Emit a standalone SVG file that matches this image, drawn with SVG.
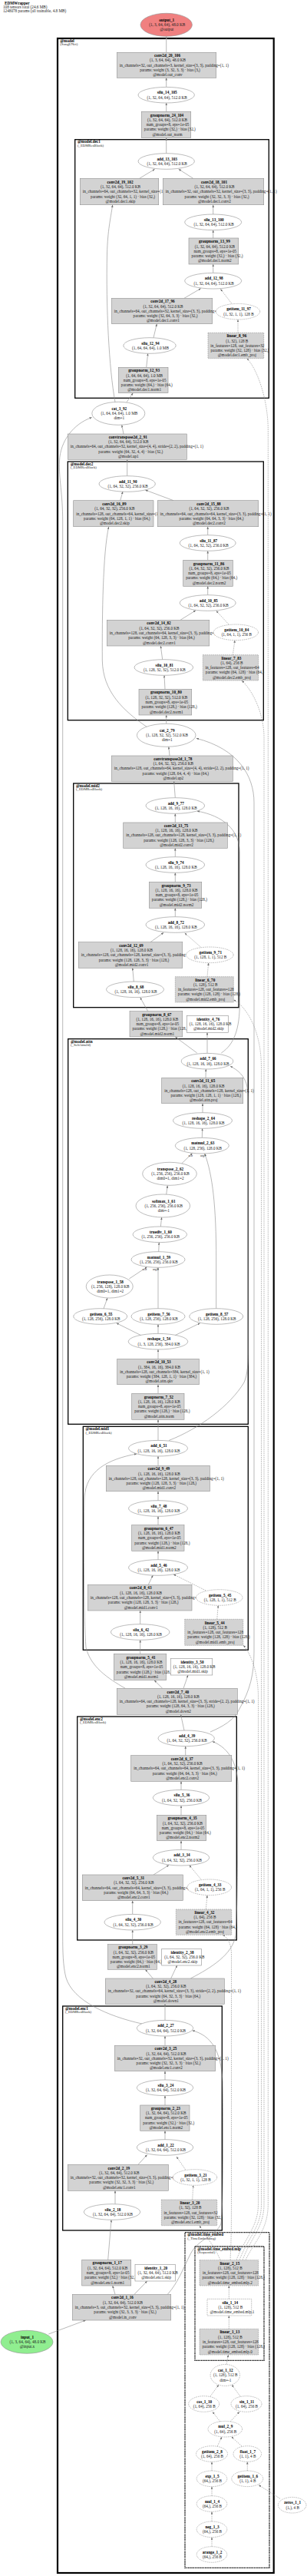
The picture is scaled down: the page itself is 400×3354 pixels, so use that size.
<svg xmlns="http://www.w3.org/2000/svg" width="400" height="3354" viewBox="0 0 400 3354">
<style>
text{font-family:"Liberation Serif","Times New Roman",serif;font-size:5.2px;fill:#222;text-anchor:middle}
.b{font-weight:bold;fill:#000}
.s{text-anchor:start}
.h{text-anchor:start}
.r{fill:#d3d3d3;stroke:#8f8f8f;stroke-width:0.6}
.w{fill:#fff;stroke:#8f8f8f;stroke-width:0.6}
.dh{stroke-dasharray:1.6,1}
.cl{fill:none;stroke:#000;stroke-width:1.3}
.cm{fill:none;stroke:#000;stroke-width:2.2}
.cd{stroke-dasharray:1.4,0.8}
.lb{text-anchor:start;font-weight:bold;fill:#000}
.ls{text-anchor:start;font-size:4.7px}
.e{fill:none;stroke:#8a8a8a;stroke-width:0.6;marker-end:url(#ah)}
.ed{stroke-dasharray:1.6,1.1}
.el{font-size:4px}
</style>
<defs>
<marker id="ah" viewBox="0 0 10 8" refX="10" refY="4" markerWidth="3.2" markerHeight="2.6" markerUnits="userSpaceOnUse" orient="auto"><path d="M0,0 L10,4 L0,8 z" fill="#6f6f6f"/></marker>
</defs>
<rect width="400" height="3354" fill="#fff"/>
<g id="header">
<text class="h b" x="6" y="5.8">EDMWrapper</text>
<text class="h" x="4" y="10.8">108 tensors total (24.6 MB)</text>
<text class="h" x="4" y="15.5">1248078 params (all trainable, 4.8 MB)</text>
</g>
<g id="clusters">
<rect class="cm" x="75" y="50" width="281.7" height="3300"/>
<text class="lb" x="78.3" y="54.8">@model</text><text class="ls" x="78.3" y="59.3">(SongUNet)</text>
<rect class="cl" x="97.7" y="181.7" width="252.6" height="336.6"/>
<text class="lb" x="101" y="186.2">@model.dec1</text><text class="ls" x="101" y="190.8">(_EDMResBlock)</text>
<rect class="cl" x="88.3" y="601" width="255" height="336.7"/>
<text class="lb" x="91.7" y="605.5">@model.dec2</text><text class="ls" x="91.7" y="610">(_EDMResBlock)</text>
<rect class="cl" x="95.7" y="1020" width="215.3" height="291.7"/>
<text class="lb" x="99" y="1024.7">@model.mid2</text><text class="ls" x="99" y="1029.3">(_EDMResBlock)</text>
<rect class="cl" x="88.7" y="1352.7" width="234.6" height="501.6"/>
<text class="lb" x="92" y="1357.5">@model.attn</text><text class="ls" x="92" y="1362">(_SelfAttn2d)</text>
<rect class="cl" x="108.3" y="1857.3" width="215" height="291"/>
<text class="lb" x="111.5" y="1862">@model.mid1</text><text class="ls" x="111.5" y="1866.5">(_EDMResBlock)</text>
<rect class="cl" x="100.7" y="2235" width="207.6" height="291"/>
<text class="lb" x="104" y="2239.7">@model.enc2</text><text class="ls" x="104" y="2244.2">(_EDMResBlock)</text>
<rect class="cl" x="81.7" y="2612" width="207.6" height="292"/>
<text class="lb" x="85" y="2616.8">@model.enc1</text><text class="ls" x="85" y="2621.3">(_EDMResBlock)</text>
<rect class="cl cd" x="241" y="2906.7" width="110" height="436.6"/>
<text class="lb" x="244.3" y="2911.3">@model.time_embed</text><text class="ls" x="244.3" y="2915.8">(_TimeEmbedding)</text>
<rect class="cl cd" x="254" y="2925" width="90" height="148.3"/>
<text class="lb" x="257.3" y="2929.7">@model.time_embed.mlp</text><text class="ls" x="257.3" y="2934.2">(Sequential)</text>
</g>
<g id="edges">
<path class="e" d="M216.7,68.3 L216.7,47.6"/>
<path class="e" d="M216.7,113.4 L216.7,101.3"/>
<path class="e" d="M216.7,145.3 L216.7,134"/>
<path class="e" d="M216.7,199.7 L216.7,179.3"/>
<path class="e" d="M181.7,232.3 L201.7,220.2"/>
<path class="e" d="M251.7,232.3 L232.7,220.2"/>
<path class="e" d="M277.7,279 L277.7,266.7"/>
<path class="e" d="M277.7,310 L277.7,299.6"/>
<path class="e" d="M277.7,355.4 L277.7,344"/>
<path class="e" d="M240,388.3 L261.7,375.6"/>
<path class="e" d="M200,439.7 L204.3,421.7"/>
<path class="e" d="M190.7,478.3 L192.7,460.3"/>
<path class="e" d="M165,523.6 L173.3,511.7"/>
<path class="e" d="M150,523.5 C142,480 138,400 139.5,330 C140.3,300 144,285 146.7,266.7"/>
<path class="e" d="M161,565 L158.7,553.3"/>
<path class="e" d="M185,2635 C140,2625 95,2605 86,2575 C82,2560 81.7,2540 81.7,2520 L81.7,680 C81.7,640 76.5,625 77.5,600 C78.5,575 95,552 119.7,543.5"/>
<path class="e" d="M165.7,619.7 L165.7,598.3"/>
<path class="e" d="M156.7,651.7 L160,640"/>
<path class="e" d="M226,651.7 L189.3,638"/>
<path class="e" d="M270.7,696.7 L270.7,685.7"/>
<path class="e" d="M270.7,729.3 L270.7,717.3"/>
<path class="e" d="M270.7,774.7 L270.7,763.3"/>
<path class="e" d="M235,807.3 L255,794.8"/>
<path class="e" d="M211.7,858.7 L209.3,841"/>
<path class="e" d="M215,897.3 L214,879.3"/>
<path class="e" d="M216.7,942.3 L216.7,931"/>
<path class="e" d="M191.7,946.7 C160,925 134,900 133.3,860 C133,800 134,720 141.7,685.7"/>
<path class="e" d="M221,984 L219.8,972.3"/>
<path class="e" d="M274,2255 C290,2248 305,2240 312,2225 C326,2200 331,2180 331,2150 L331,1045 C331,1010 310,975 255.7,961.3"/>
<path class="e" d="M228.3,1038.7 L226.7,1017.3"/>
<path class="e" d="M228.3,1071 L228.3,1059.3"/>
<path class="e" d="M288.3,1371 C305,1360 312.3,1340 312.3,1306 L312.3,1110 C312.3,1080 290,1062 256.7,1056"/>
<path class="e" d="M228.3,1115.7 L228.3,1104.3"/>
<path class="e" d="M228.3,1148.3 L228.3,1136.3"/>
<path class="e" d="M228.3,1193.7 L228.3,1182.3"/>
<path class="e" d="M196,1226.7 L213.3,1214.3"/>
<path class="e" d="M174.3,1278 L172.7,1260.3"/>
<path class="e" d="M192.7,1316.7 L182.7,1298.8"/>
<path class="e" d="M256.7,1371 L228.3,1350"/>
<path class="e" d="M270,1371.4 L270,1344.3"/>
<path class="e" d="M268,1403.3 L268.3,1392"/>
<path class="e" d="M220,1875.5 C260,1860 300,1830 318,1800 C322.5,1790 323.3,1775 323.3,1760 L323.3,1430 C323.3,1410 318,1397 300,1388.3"/>
<path class="e" d="M264,1448.7 L264,1436.7"/>
<path class="e" d="M263.3,1481.4 L263.6,1469.3"/>
<path class="e" d="M236.7,1515 L250.7,1501.3"/>
<path class="e" d="M281.7,1703.7 L281.7,1640 C281.7,1570 277,1530 266.7,1502"/>
<path class="e" d="M216.7,1555 L218.3,1543.6"/>
<path class="e" d="M209.3,1597 L210.7,1585"/>
<path class="e" d="M206.7,1629.7 L207.3,1617.6"/>
<path class="e" d="M168.3,1665 L191.7,1649.5"/>
<path class="e" d="M206,1703.7 L206,1650.3"/>
<path class="e" d="M135,1703.8 L140,1690"/>
<path class="e" d="M185,1739.3 L151.7,1722.7"/>
<path class="e" d="M206,1736.4 L206,1724.3"/>
<path class="e" d="M226.7,1739.3 L260.7,1722.7"/>
<path class="e" d="M206,1769.3 L206,1757"/>
<path class="e" d="M206,1814.3 L206,1802.7"/>
<path class="e" d="M206,1875.4 L206,1848.3"/>
<path class="e" d="M206,1908.3 L206,1896"/>
<path class="e" d="M163.3,2198.3 C140,2185 118,2170 112,2145 C109,2110 109,1990 110,1950 C112,1915 140,1900 178.3,1892.9"/>
<path class="e" d="M206,1953.7 L206,1941.7"/>
<path class="e" d="M206,1985.7 L206,1974.3"/>
<path class="e" d="M206,2030.7 L206,2019.3"/>
<path class="e" d="M193.3,2063.3 L199.3,2051"/>
<path class="e" d="M182.7,2114.7 L182.7,2097"/>
<path class="e" d="M182.7,2153.3 L182.7,2135.3"/>
<path class="e" d="M211.7,2198.3 L201,2187.7"/>
<path class="e" d="M239,2198.3 L245,2181"/>
<path class="e" d="M240,2253.1 L235.5,2232.3"/>
<path class="e" d="M241.7,2285.7 L241.7,2273.6"/>
<path class="e" d="M248.3,2576 C275,2562 303,2545 307,2520 C310,2470 309.5,2400 310,2330 C311,2300 300,2276 276.7,2267.5"/>
<path class="e" d="M236,2330.4 L236,2319.3"/>
<path class="e" d="M236,2363.3 L236,2351"/>
<path class="e" d="M236,2408.4 L236,2396.7"/>
<path class="e" d="M200,2441 L220,2428.4"/>
<path class="e" d="M172.7,2492.4 L172.7,2474.7"/>
<path class="e" d="M172.7,2531.7 L172.7,2513"/>
<path class="e" d="M199.3,2576 L189.3,2564.3"/>
<path class="e" d="M222.7,2576 L230.7,2559"/>
<path class="e" d="M215,2630.4 L215,2609.3"/>
<path class="e" d="M215,2663.3 L215,2651"/>
<path class="e" d="M218.3,2987.3 C232,2972 238,2955 248,2935 C258,2915 283,2910 288,2895 C291,2870 291,2760 290,2710 C288,2670 275,2650 250.5,2643.8"/>
<path class="e" d="M215,2708 L215,2696.7"/>
<path class="e" d="M215,2741 L215,2728.6"/>
<path class="e" d="M215,2785.7 L215,2774.3"/>
<path class="e" d="M180,2818.3 L191.7,2805.5"/>
<path class="e" d="M150,2869.7 L150,2852.3"/>
<path class="e" d="M140.7,2942.3 L145,2890.3"/>
<path class="e" d="M150,2987.3 L146.7,2976"/>
<path class="e" d="M175,2987.3 L191.7,2970"/>
<path class="e" d="M63.3,3039 L111.7,3021"/>
<path class="e ed" d="M301.7,395 L287.3,376.3"/>
<path class="e ed" d="M310,433.3 L310,416"/>
<path class="e ed" d="M320,2942.7 C330,2920 349.3,2905 349.3,2870 L349.3,560 C349.3,520 335,480 321.7,466.7"/>
<path class="e ed" d="M316,2942.7 C326,2915 344,2900 344,2870 L344,960 C344,930 330,900 315,886"/>
<path class="e ed" d="M298.3,813.3 L281.7,795.2"/>
<path class="e ed" d="M303.3,852.7 L306,833.6"/>
<path class="e ed" d="M312,2942.7 C322,2915 340.5,2900 340.5,2870 L340.5,1390 C340.5,1340 320,1310 304.3,1301.7"/>
<path class="e ed" d="M261.7,1233.3 L240.7,1214.8"/>
<path class="e ed" d="M270,1271.7 L271.7,1253.6"/>
<path class="e ed" d="M268.3,2071 L226,2049.8"/>
<path class="e ed" d="M282.7,2108.3 L284.3,2090.3"/>
<path class="e ed" d="M308,2942.7 C318,2915 336.5,2900 336.5,2870 L336.5,2210 C336.5,2175 325,2150 317,2142.3"/>
<path class="e ed" d="M261.7,2446.7 L246.7,2428.6"/>
<path class="e ed" d="M268.3,2486 L270,2467.6"/>
<path class="e ed" d="M300,2942.7 C301.5,2915 301.5,2890 301.5,2860 L301.5,2545 C301.5,2530 296,2522 290,2519.3"/>
<path class="e ed" d="M241.7,2825 L230,2808"/>
<path class="e ed" d="M250.7,2864 L251.7,2845.3"/>
<path class="e ed" d="M287,2942.7 C280,2925 268,2912 260,2897.7"/>
<path class="e ed" d="M298.3,2993.3 L298.3,2976"/>
<path class="e ed" d="M298.3,3032.3 L298.3,3015"/>
<path class="e ed" d="M295,3078.5 L297.5,3066"/>
<path class="e ed" d="M274,3120 L285,3105"/>
<path class="e ed" d="M313,3120 L302,3105"/>
<path class="e ed" d="M287,3153.3 L277,3140.2"/>
<path class="e ed" d="M300,3153 L312,3140.2"/>
<path class="e ed" d="M283.3,3185 L289,3172.8"/>
<path class="e ed" d="M315,3185 L301.5,3172.6"/>
<path class="e ed" d="M276,3217 L276,3205.3"/>
<path class="e ed" d="M322.3,3217 L322.3,3205.3"/>
<path class="e ed" d="M276,3249.7 L276,3237.6"/>
<path class="e ed" d="M276,3283 L276,3270.3"/>
<path class="e ed" d="M276,3315.7 L276,3303.6"/>
<path class="e ed" d="M365,3253.3 L337,3235.5"/>
<text class="el" x="248.3" y="1505.5">self</text><text class="el" x="264.5" y="1505.5">arg1</text>
<text class="el" x="188.5" y="1653.5">self</text><text class="el" x="202.5" y="1653.5">arg1</text>
</g>
<g id="output_1"><ellipse cx="216.7" cy="32.3" rx="33.7" ry="15" fill="#f08080" stroke="#8f8f8f" stroke-width="0.6"/><text class="b" x="217.2" y="27.8">output_1</text><text x="217.7" y="34.1">(1, 3, 64, 64), 48.0 KB</text><text x="217.2" y="40.4">@output</text></g>
<g id="conv2d_20_106"><rect class="r" x="152.3" y="68.3" width="129.4" height="33"/><text class="b" x="218" y="74">conv2d_20_106</text><text x="218.5" y="80.3">(1, 3, 64, 64), 48.0 KB</text><text class="s" x="155.8" y="86.6">in_channels=32, out_channels=3, kernel_size=(3, 3), padding=(1, 1)</text><text x="221.5" y="92.9">params: weight (3, 32, 3, 3) · bias (3,)</text><text x="218.5" y="99.2">@model.out_conv</text></g>
<g id="silu_14_105"><ellipse class="w" cx="216.7" cy="123.7" rx="36.7" ry="10.3"/><text class="b" x="217.7" y="122.35">silu_14_105</text><text x="217.7" y="128.65">(1, 32, 64, 64), 512.0 KB</text></g>
<g id="groupnorm_24_104"><rect class="r" x="184.3" y="145.3" width="64.4" height="34"/><text class="b" x="217.5" y="151.5">groupnorm_24_104</text><text x="218" y="157.8">(1, 32, 64, 64), 512.0 KB</text><text x="218.5" y="164.1">num_groups=8, eps=1e-05</text><text class="s" x="187.8" y="170.4">params: weight (32,) · bias (32,)</text><text x="218" y="176.7">@model.out_norm</text></g>
<g id="add_13_103"><ellipse class="w" cx="216.7" cy="210" rx="36.7" ry="10.3"/><text class="b" x="217.7" y="208.65">add_13_103</text><text x="217.7" y="214.95">(1, 32, 64, 64), 512.0 KB</text></g>
<g id="conv2d_19_102"><rect class="r" x="104.3" y="232.3" width="102.4" height="34.4"/><text class="b" x="156.5" y="238.7">conv2d_19_102</text><text x="157" y="245">(1, 32, 64, 64), 512.0 KB</text><text class="s" x="107.8" y="251.3">in_channels=64, out_channels=32, kernel_size=(1, 1)</text><text x="160" y="257.6">params: weight (32, 64, 1, 1) · bias (32,)</text><text x="157" y="263.9">@model.dec1.skip</text></g>
<g id="conv2d_18_101"><rect class="r" x="212.3" y="232.3" width="131.4" height="34.4"/><text class="b" x="279" y="238.7">conv2d_18_101</text><text x="279.5" y="245">(1, 32, 64, 64), 512.0 KB</text><text class="s" x="215.8" y="251.3">in_channels=32, out_channels=32, kernel_size=(3, 3), padding=(1, 1)</text><text x="282.5" y="257.6">params: weight (32, 32, 3, 3) · bias (32,)</text><text x="279.5" y="263.9">@model.dec1.conv2</text></g>
<g id="silu_13_100"><ellipse class="w" cx="277.7" cy="289.3" rx="37" ry="10.3"/><text class="b" x="278.7" y="287.95">silu_13_100</text><text x="278.7" y="294.25">(1, 32, 64, 64), 512.0 KB</text></g>
<g id="groupnorm_13_99"><rect class="r" x="246" y="310" width="64.7" height="34"/><text class="b" x="279.35" y="316.2">groupnorm_13_99</text><text x="279.85" y="322.5">(1, 32, 64, 64), 512.0 KB</text><text x="280.35" y="328.8">num_groups=8, eps=1e-05</text><text class="s" x="249.5" y="335.1">params: weight (32,) · bias (32,)</text><text x="279.85" y="341.4">@model.dec1.norm2</text></g>
<g id="add_12_98"><ellipse class="w" cx="277.7" cy="365.7" rx="37" ry="10.3"/><text class="b" x="278.7" y="364.35">add_12_98</text><text x="278.7" y="370.65">(1, 32, 64, 64), 512.0 KB</text></g>
<g id="conv2d_17_96"><rect class="r" x="145.3" y="388.3" width="131.4" height="33.4"/><text class="b" x="212" y="394.2">conv2d_17_96</text><text x="212.5" y="400.5">(1, 32, 64, 64), 512.0 KB</text><text class="s" x="148.8" y="406.8">in_channels=64, out_channels=32, kernel_size=(3, 3), padding=(1, 1)</text><text x="215.5" y="413.1">params: weight (32, 64, 3, 3) · bias (32,)</text><text x="212.5" y="419.4">@model.dec1.conv1</text></g>
<g id="getitem_11_97"><ellipse class="w dh" cx="310" cy="405.7" rx="28.7" ry="10.3"/><text class="b" x="311" y="404.35">getitem_11_97</text><text x="311" y="410.65">(1, 32, 1, 1), 128 B</text></g>
<g id="linear_8_96"><rect class="r dh" x="271" y="433.3" width="72.7" height="33.4"/><text class="b" x="308.35" y="439.2">linear_8_96</text><text x="308.85" y="445.5">(1, 32), 128 B</text><text x="309.35" y="451.8">in_features=128, out_features=32</text><text class="s" x="274.5" y="458.1">params: weight (32, 128) · bias (32,)</text><text x="308.85" y="464.4">@model.dec1.emb_proj</text></g>
<g id="silu_12_94"><ellipse class="w" cx="195" cy="450" rx="34.2" ry="10.3"/><text class="b" x="196" y="448.65">silu_12_94</text><text x="196" y="454.95">(1, 64, 64, 64), 1.0 MB</text></g>
<g id="groupnorm_12_93"><rect class="r" x="154.3" y="478.3" width="64.7" height="33.4"/><text class="b" x="187.65" y="484.2">groupnorm_12_93</text><text x="188.15" y="490.5">(1, 64, 64, 64), 1.0 MB</text><text x="188.65" y="496.8">num_groups=8, eps=1e-05</text><text class="s" x="157.8" y="503.1">params: weight (64,) · bias (64,)</text><text x="188.15" y="509.4">@model.dec1.norm1</text></g>
<g id="cat_3_92"><ellipse class="w" cx="154.3" cy="538.3" rx="34.5" ry="15"/><text class="b" x="155.3" y="533.8">cat_3_92</text><text x="155.3" y="540.1">(1, 64, 64, 64), 1.0 MB</text><text x="155.3" y="546.4">dim=1</text></g>
<g id="convtranspose2d_2_91"><rect class="r" x="88.3" y="565" width="155" height="33.3"/><text class="b" x="166.8" y="570.85">convtranspose2d_2_91</text><text x="167.3" y="577.15">(1, 32, 64, 64), 512.0 KB</text><text class="s" x="91.8" y="583.45">in_channels=64, out_channels=32, kernel_size=(4, 4), stride=(2, 2), padding=(1, 1)</text><text x="170.3" y="589.75">params: weight (64, 32, 4, 4) · bias (32,)</text><text x="167.3" y="596.05">@model.up1</text></g>
<g id="add_11_90"><ellipse class="w" cx="165.7" cy="630" rx="36.7" ry="10.3"/><text class="b" x="166.7" y="628.65">add_11_90</text><text x="166.7" y="634.95">(1, 64, 32, 32), 256.0 KB</text></g>
<g id="conv2d_16_89"><rect class="r" x="95.7" y="651.7" width="104.3" height="34"/><text class="b" x="148.85" y="657.9">conv2d_16_89</text><text x="149.35" y="664.2">(1, 64, 32, 32), 256.0 KB</text><text class="s" x="99.2" y="670.5">in_channels=128, out_channels=64, kernel_size=(1, 1)</text><text x="152.35" y="676.8">params: weight (64, 128, 1, 1) · bias (64,)</text><text x="149.35" y="683.1">@model.dec2.skip</text></g>
<g id="conv2d_15_88"><rect class="r" x="205.3" y="651.7" width="131.4" height="34"/><text class="b" x="272" y="657.9">conv2d_15_88</text><text x="272.5" y="664.2">(1, 64, 32, 32), 256.0 KB</text><text class="s" x="208.8" y="670.5">in_channels=64, out_channels=64, kernel_size=(3, 3), padding=(1, 1)</text><text x="275.5" y="676.8">params: weight (64, 64, 3, 3) · bias (64,)</text><text x="272.5" y="683.1">@model.dec2.conv2</text></g>
<g id="silu_11_87"><ellipse class="w" cx="270.7" cy="707" rx="36.5" ry="10.3"/><text class="b" x="271.7" y="705.65">silu_11_87</text><text x="271.7" y="711.95">(1, 64, 32, 32), 256.0 KB</text></g>
<g id="groupnorm_11_86"><rect class="r" x="238.7" y="729.3" width="64.6" height="34"/><text class="b" x="272" y="735.5">groupnorm_11_86</text><text x="272.5" y="741.8">(1, 64, 32, 32), 256.0 KB</text><text x="273" y="748.1">num_groups=8, eps=1e-05</text><text class="s" x="242.2" y="754.4">params: weight (64,) · bias (64,)</text><text x="272.5" y="760.7">@model.dec2.norm2</text></g>
<g id="add_10_85"><ellipse class="w" cx="270.7" cy="785" rx="36.5" ry="10.3"/><text class="b" x="271.7" y="783.65">add_10_85</text><text x="271.7" y="789.95">(1, 64, 32, 32), 256.0 KB</text></g>
<g id="conv2d_14_82"><rect class="r" x="139.3" y="807.3" width="133.4" height="33.7"/><text class="b" x="207" y="813.35">conv2d_14_82</text><text x="207.5" y="819.65">(1, 64, 32, 32), 256.0 KB</text><text class="s" x="142.8" y="825.95">in_channels=128, out_channels=64, kernel_size=(3, 3), padding=(1, 1)</text><text x="210.5" y="832.25">params: weight (64, 128, 3, 3) · bias (64,)</text><text x="207.5" y="838.55">@model.dec2.conv1</text></g>
<g id="getitem_10_84"><ellipse class="w dh" cx="307.3" cy="823.3" rx="29.2" ry="10.3"/><text class="b" x="308.3" y="821.95">getitem_10_84</text><text x="308.3" y="828.25">(1, 64, 1, 1), 256 B</text></g>
<g id="linear_7_83"><rect class="r dh" x="264.3" y="852.7" width="72.4" height="33.3"/><text class="b" x="301.5" y="858.55">linear_7_83</text><text x="302" y="864.85">(1, 64), 256 B</text><text x="302.5" y="871.15">in_features=128, out_features=64</text><text class="s" x="267.8" y="877.45">params: weight (64, 128) · bias (64,)</text><text x="302" y="883.75">@model.dec2.emb_proj</text></g>
<g id="silu_10_81"><ellipse class="w" cx="213.3" cy="869" rx="38.3" ry="10.3"/><text class="b" x="214.3" y="867.65">silu_10_81</text><text x="214.3" y="873.95">(1, 128, 32, 32), 512.0 KB</text></g>
<g id="groupnorm_10_80"><rect class="r" x="181" y="897.3" width="68.7" height="33.7"/><text class="b" x="216.35" y="903.35">groupnorm_10_80</text><text x="216.85" y="909.65">(1, 128, 32, 32), 512.0 KB</text><text x="217.35" y="915.95">num_groups=8, eps=1e-05</text><text class="s" x="184.5" y="922.25">params: weight (128,) · bias (128,)</text><text x="216.85" y="928.55">@model.dec2.norm1</text></g>
<g id="cat_2_79"><ellipse class="w" cx="216.7" cy="957.3" rx="38.3" ry="15"/><text class="b" x="217.7" y="952.8">cat_2_79</text><text x="217.7" y="959.1">(1, 128, 32, 32), 512.0 KB</text><text x="217.7" y="965.4">dim=1</text></g>
<g id="convtranspose2d_1_78"><rect class="r" x="145.3" y="984" width="158" height="33.3"/><text class="b" x="225.3" y="989.85">convtranspose2d_1_78</text><text x="225.8" y="996.15">(1, 64, 32, 32), 256.0 KB</text><text class="s" x="148.8" y="1002.45">in_channels=128, out_channels=64, kernel_size=(4, 4), stride=(2, 2), padding=(1, 1)</text><text x="228.8" y="1008.75">params: weight (128, 64, 4, 4) · bias (64,)</text><text x="225.8" y="1015.05">@model.up2</text></g>
<g id="add_9_77"><ellipse class="w" cx="228.3" cy="1049" rx="38.3" ry="10.3"/><text class="b" x="229.3" y="1047.65">add_9_77</text><text x="229.3" y="1053.95">(1, 128, 16, 16), 128.0 KB</text></g>
<g id="conv2d_13_75"><rect class="r" x="160.7" y="1071" width="135.6" height="33.3"/><text class="b" x="229.5" y="1076.85">conv2d_13_75</text><text x="230" y="1083.15">(1, 128, 16, 16), 128.0 KB</text><text class="s" x="164.2" y="1089.45">in_channels=128, out_channels=128, kernel_size=(3, 3), padding=(1, 1)</text><text x="233" y="1095.75">params: weight (128, 128, 3, 3) · bias (128,)</text><text x="230" y="1102.05">@model.mid2.conv2</text></g>
<g id="silu_9_74"><ellipse class="w" cx="228.3" cy="1126" rx="38.3" ry="10.3"/><text class="b" x="229.3" y="1124.65">silu_9_74</text><text x="229.3" y="1130.95">(1, 128, 16, 16), 128.0 KB</text></g>
<g id="groupnorm_9_73"><rect class="r" x="194.3" y="1148.3" width="68.4" height="34"/><text class="b" x="229.5" y="1154.5">groupnorm_9_73</text><text x="230" y="1160.8">(1, 128, 16, 16), 128.0 KB</text><text x="230.5" y="1167.1">num_groups=8, eps=1e-05</text><text class="s" x="197.8" y="1173.4">params: weight (128,) · bias (128,)</text><text x="230" y="1179.7">@model.mid2.norm2</text></g>
<g id="add_8_72"><ellipse class="w" cx="228.3" cy="1204" rx="38.3" ry="10.3"/><text class="b" x="229.3" y="1202.65">add_8_72</text><text x="229.3" y="1208.95">(1, 128, 16, 16), 128.0 KB</text></g>
<g id="conv2d_12_69"><rect class="r" x="102.3" y="1226.7" width="135.4" height="33.6"/><text class="b" x="171" y="1232.7">conv2d_12_69</text><text x="171.5" y="1239">(1, 128, 16, 16), 128.0 KB</text><text class="s" x="105.8" y="1245.3">in_channels=128, out_channels=128, kernel_size=(3, 3), padding=(1, 1)</text><text x="174.5" y="1251.6">params: weight (128, 128, 3, 3) · bias (128,)</text><text x="171.5" y="1257.9">@model.mid2.conv1</text></g>
<g id="getitem_9_71"><ellipse class="w dh" cx="273.3" cy="1243.3" rx="30.8" ry="10.3"/><text class="b" x="274.3" y="1241.95">getitem_9_71</text><text x="274.3" y="1248.25">(1, 128, 1, 1), 512 B</text></g>
<g id="silu_8_68"><ellipse class="w" cx="176" cy="1288.3" rx="37.5" ry="10.3"/><text class="b" x="177" y="1286.95">silu_8_68</text><text x="177" y="1293.25">(1, 128, 16, 16), 128.0 KB</text></g>
<g id="linear_6_70"><rect class="r dh" x="228.3" y="1271.7" width="76" height="33.3"/><text class="b" x="267.3" y="1277.55">linear_6_70</text><text x="267.8" y="1283.85">(1, 128), 512 B</text><text x="268.3" y="1290.15">in_features=128, out_features=128</text><text class="s" x="231.8" y="1296.45">params: weight (128, 128) · bias (128,)</text><text x="267.8" y="1302.75">@model.mid2.emb_proj</text></g>
<g id="groupnorm_8_67"><rect class="r" x="169" y="1316.7" width="68.7" height="33.3"/><text class="b" x="204.35" y="1322.55">groupnorm_8_67</text><text x="204.85" y="1328.85">(1, 128, 16, 16), 128.0 KB</text><text x="205.35" y="1335.15">num_groups=8, eps=1e-05</text><text class="s" x="172.5" y="1341.45">params: weight (128,) · bias (128,)</text><text x="204.85" y="1347.75">@model.mid2.norm1</text></g>
<g id="identity_4_76"><rect class="w" x="243.3" y="1322.3" width="54" height="22"/><text class="b" x="271.3" y="1328.8">identity_4_76</text><text class="s" x="246.8" y="1335.1">(1, 128, 16, 16), 128.0 KB</text><text x="271.8" y="1341.4">@model.mid2.skip</text></g>
<g id="add_7_66"><ellipse class="w" cx="270" cy="1381.7" rx="33.8" ry="10.3"/><text class="b" x="271" y="1380.35">add_7_66</text><text x="271" y="1386.65">(1, 128, 16, 16), 128.0 KB</text></g>
<g id="conv2d_11_65"><rect class="r" x="210.7" y="1403.3" width="106" height="33.4"/><text class="b" x="264.7" y="1409.2">conv2d_11_65</text><text x="265.2" y="1415.5">(1, 128, 16, 16), 128.0 KB</text><text class="s" x="214.2" y="1421.8">in_channels=128, out_channels=128, kernel_size=(1, 1)</text><text x="268.2" y="1428.1">params: weight (128, 128, 1, 1) · bias (128,)</text><text x="265.2" y="1434.4">@model.attn.proj</text></g>
<g id="reshape_2_64"><ellipse class="w" cx="264" cy="1459" rx="38.5" ry="10.3"/><text class="b" x="265" y="1457.65">reshape_2_64</text><text x="265" y="1463.95">(1, 128, 16, 16), 128.0 KB</text></g>
<g id="matmul_2_63"><ellipse class="w" cx="263.3" cy="1491.7" rx="35" ry="10.3"/><text class="b" x="264.3" y="1490.35">matmul_2_63</text><text x="264.3" y="1496.65">(1, 128, 256), 128.0 KB</text></g>
<g id="transpose_2_62"><ellipse class="w" cx="221" cy="1528.3" rx="35.3" ry="15"/><text class="b" x="222" y="1523.8">transpose_2_62</text><text x="222" y="1530.1">(1, 256, 256), 256.0 KB</text><text x="222" y="1536.4">dim0=1, dim1=2</text></g>
<g id="softmax_1_61"><ellipse class="w" cx="212.3" cy="1570" rx="35.3" ry="15"/><text class="b" x="213.3" y="1565.5">softmax_1_61</text><text x="213.3" y="1571.8">(1, 256, 256), 256.0 KB</text><text x="213.3" y="1578.1">dim=-1</text></g>
<g id="truediv_1_60"><ellipse class="w" cx="208.3" cy="1607.3" rx="35.2" ry="10.3"/><text class="b" x="209.3" y="1605.95">truediv_1_60</text><text x="209.3" y="1612.25">(1, 256, 256), 256.0 KB</text></g>
<g id="matmul_1_59"><ellipse class="w" cx="206" cy="1640" rx="35" ry="10.3"/><text class="b" x="207" y="1638.65">matmul_1_59</text><text x="207" y="1644.95">(1, 256, 256), 256.0 KB</text></g>
<g id="transpose_1_58"><ellipse class="w" cx="142.7" cy="1675" rx="30.5" ry="15"/><text class="b" x="143.7" y="1670.5">transpose_1_58</text><text x="143.7" y="1676.8">(1, 256, 128), 128.0 KB</text><text x="143.7" y="1683.1">dim0=1, dim1=2</text></g>
<g id="getitem_6_55"><ellipse class="w" cx="130.7" cy="1714" rx="35" ry="10.3"/><text class="b" x="131.7" y="1712.65">getitem_6_55</text><text x="131.7" y="1718.95">(1, 128, 256), 128.0 KB</text></g>
<g id="getitem_7_56"><ellipse class="w" cx="206" cy="1714" rx="35" ry="10.3"/><text class="b" x="207" y="1712.65">getitem_7_56</text><text x="207" y="1718.95">(1, 128, 256), 128.0 KB</text></g>
<g id="getitem_8_57"><ellipse class="w" cx="281.7" cy="1714" rx="35" ry="10.3"/><text class="b" x="282.7" y="1712.65">getitem_8_57</text><text x="282.7" y="1718.95">(1, 128, 256), 128.0 KB</text></g>
<g id="reshape_1_54"><ellipse class="w" cx="206" cy="1746.7" rx="38.8" ry="10.3"/><text class="b" x="207" y="1745.35">reshape_1_54</text><text x="207" y="1751.65">(1, 3, 128, 256), 384.0 KB</text></g>
<g id="conv2d_10_53"><rect class="r" x="152.7" y="1769.3" width="106.6" height="33.4"/><text class="b" x="207" y="1775.2">conv2d_10_53</text><text x="207.5" y="1781.5">(1, 384, 16, 16), 384.0 KB</text><text class="s" x="156.2" y="1787.8">in_channels=128, out_channels=384, kernel_size=(1, 1)</text><text x="210.5" y="1794.1">params: weight (384, 128, 1, 1) · bias (384,)</text><text x="207.5" y="1800.4">@model.attn.qkv</text></g>
<g id="groupnorm_7_52"><rect class="r" x="171.7" y="1814.3" width="68.3" height="34"/><text class="b" x="206.85" y="1820.5">groupnorm_7_52</text><text x="207.35" y="1826.8">(1, 128, 16, 16), 128.0 KB</text><text x="207.85" y="1833.1">num_groups=8, eps=1e-05</text><text class="s" x="175.2" y="1839.4">params: weight (128,) · bias (128,)</text><text x="207.35" y="1845.7">@model.attn.norm</text></g>
<g id="add_6_51"><ellipse class="w" cx="206" cy="1885.7" rx="38.5" ry="10.3"/><text class="b" x="207" y="1884.35">add_6_51</text><text x="207" y="1890.65">(1, 128, 16, 16), 128.0 KB</text></g>
<g id="conv2d_9_49"><rect class="r" x="138.3" y="1908.3" width="135" height="33.4"/><text class="b" x="206.8" y="1914.2">conv2d_9_49</text><text x="207.3" y="1920.5">(1, 128, 16, 16), 128.0 KB</text><text class="s" x="141.8" y="1926.8">in_channels=128, out_channels=128, kernel_size=(3, 3), padding=(1, 1)</text><text x="210.3" y="1933.1">params: weight (128, 128, 3, 3) · bias (128,)</text><text x="207.3" y="1939.4">@model.mid1.conv2</text></g>
<g id="silu_7_48"><ellipse class="w" cx="206" cy="1964" rx="38.5" ry="10.3"/><text class="b" x="207" y="1962.65">silu_7_48</text><text x="207" y="1968.95">(1, 128, 16, 16), 128.0 KB</text></g>
<g id="groupnorm_6_47"><rect class="r" x="171.7" y="1985.7" width="68.3" height="33.6"/><text class="b" x="206.85" y="1991.7">groupnorm_6_47</text><text x="207.35" y="1998">(1, 128, 16, 16), 128.0 KB</text><text x="207.85" y="2004.3">num_groups=8, eps=1e-05</text><text class="s" x="175.2" y="2010.6">params: weight (128,) · bias (128,)</text><text x="207.35" y="2016.9">@model.mid1.norm2</text></g>
<g id="add_5_46"><ellipse class="w" cx="206" cy="2041" rx="38.5" ry="10.3"/><text class="b" x="207" y="2039.65">add_5_46</text><text x="207" y="2045.95">(1, 128, 16, 16), 128.0 KB</text></g>
<g id="conv2d_8_43"><rect class="r" x="114.3" y="2063.3" width="135.7" height="33.7"/><text class="b" x="183.15" y="2069.35">conv2d_8_43</text><text x="183.65" y="2075.65">(1, 128, 16, 16), 128.0 KB</text><text class="s" x="117.8" y="2081.95">in_channels=128, out_channels=128, kernel_size=(3, 3), padding=(1, 1)</text><text x="186.65" y="2088.25">params: weight (128, 128, 3, 3) · bias (128,)</text><text x="183.65" y="2094.55">@model.mid1.conv1</text></g>
<g id="getitem_5_45"><ellipse class="w dh" cx="285.7" cy="2080" rx="30.3" ry="10.3"/><text class="b" x="286.7" y="2078.65">getitem_5_45</text><text x="286.7" y="2084.95">(1, 128, 1, 1), 512 B</text></g>
<g id="silu_6_42"><ellipse class="w" cx="182.7" cy="2125" rx="38.3" ry="10.3"/><text class="b" x="183.7" y="2123.65">silu_6_42</text><text x="183.7" y="2129.95">(1, 128, 16, 16), 128.0 KB</text></g>
<g id="linear_5_44"><rect class="r dh" x="240.7" y="2108.3" width="76" height="34"/><text class="b" x="279.7" y="2114.5">linear_5_44</text><text x="280.2" y="2120.8">(1, 128), 512 B</text><text x="280.7" y="2127.1">in_features=128, out_features=128</text><text class="s" x="244.2" y="2133.4">params: weight (128, 128) · bias (128,)</text><text x="280.2" y="2139.7">@model.mid1.emb_proj</text></g>
<g id="groupnorm_5_41"><rect class="r" x="148.3" y="2153.3" width="68.4" height="34.4"/><text class="b" x="183.5" y="2159.7">groupnorm_5_41</text><text x="184" y="2166">(1, 128, 16, 16), 128.0 KB</text><text x="184.5" y="2172.3">num_groups=8, eps=1e-05</text><text class="s" x="151.8" y="2178.6">params: weight (128,) · bias (128,)</text><text x="184" y="2184.9">@model.mid1.norm1</text></g>
<g id="identity_3_50"><rect class="w" x="222.3" y="2159.3" width="54.4" height="21.7"/><text class="b" x="250.5" y="2165.65">identity_3_50</text><text class="s" x="225.8" y="2171.95">(1, 128, 16, 16), 128.0 KB</text><text x="251" y="2178.25">@model.mid1.skip</text></g>
<g id="conv2d_7_40"><rect class="r" x="152.3" y="2198.3" width="157" height="34"/><text class="b" x="231.8" y="2204.5">conv2d_7_40</text><text x="232.3" y="2210.8">(1, 128, 16, 16), 128.0 KB</text><text class="s" x="155.8" y="2217.1">in_channels=64, out_channels=128, kernel_size=(3, 3), stride=(2, 2), padding=(1, 1)</text><text x="235.3" y="2223.4">params: weight (128, 64, 3, 3) · bias (128,)</text><text x="232.3" y="2229.7">@model.down2</text></g>
<g id="add_4_39"><ellipse class="w" cx="242.7" cy="2263.3" rx="36.7" ry="10.3"/><text class="b" x="243.7" y="2261.95">add_4_39</text><text x="243.7" y="2268.25">(1, 64, 32, 32), 256.0 KB</text></g>
<g id="conv2d_6_37"><rect class="r" x="170.7" y="2285.7" width="131" height="33.6"/><text class="b" x="237.2" y="2291.7">conv2d_6_37</text><text x="237.7" y="2298">(1, 64, 32, 32), 256.0 KB</text><text class="s" x="174.2" y="2304.3">in_channels=64, out_channels=64, kernel_size=(3, 3), padding=(1, 1)</text><text x="240.7" y="2310.6">params: weight (64, 64, 3, 3) · bias (64,)</text><text x="237.7" y="2316.9">@model.enc2.conv2</text></g>
<g id="silu_5_36"><ellipse class="w" cx="236" cy="2340.7" rx="36.7" ry="10.3"/><text class="b" x="237" y="2339.35">silu_5_36</text><text x="237" y="2345.65">(1, 64, 32, 32), 256.0 KB</text></g>
<g id="groupnorm_4_35"><rect class="r" x="204.3" y="2363.3" width="64.4" height="33.4"/><text class="b" x="237.5" y="2369.2">groupnorm_4_35</text><text x="238" y="2375.5">(1, 64, 32, 32), 256.0 KB</text><text x="238.5" y="2381.8">num_groups=8, eps=1e-05</text><text class="s" x="207.8" y="2388.1">params: weight (64,) · bias (64,)</text><text x="238" y="2394.4">@model.enc2.norm2</text></g>
<g id="add_3_34"><ellipse class="w" cx="236" cy="2418.7" rx="36.7" ry="10.3"/><text class="b" x="237" y="2417.35">add_3_34</text><text x="237" y="2423.65">(1, 64, 32, 32), 256.0 KB</text></g>
<g id="conv2d_5_31"><rect class="r" x="107.3" y="2441" width="131" height="33.7"/><text class="b" x="173.8" y="2447.05">conv2d_5_31</text><text x="174.3" y="2453.35">(1, 64, 32, 32), 256.0 KB</text><text class="s" x="110.8" y="2459.65">in_channels=64, out_channels=64, kernel_size=(3, 3), padding=(1, 1)</text><text x="177.3" y="2465.95">params: weight (64, 64, 3, 3) · bias (64,)</text><text x="174.3" y="2472.25">@model.enc2.conv1</text></g>
<g id="getitem_4_33"><ellipse class="w dh" cx="272.7" cy="2457.3" rx="28.8" ry="10.3"/><text class="b" x="273.7" y="2455.95">getitem_4_33</text><text x="273.7" y="2462.25">(1, 64, 1, 1), 256 B</text></g>
<g id="silu_4_30"><ellipse class="w" cx="172.7" cy="2502.7" rx="36.7" ry="10.3"/><text class="b" x="173.7" y="2501.35">silu_4_30</text><text x="173.7" y="2507.65">(1, 64, 32, 32), 256.0 KB</text></g>
<g id="linear_4_32"><rect class="r dh" x="229.3" y="2486" width="72.4" height="33.3"/><text class="b" x="266.5" y="2491.85">linear_4_32</text><text x="267" y="2498.15">(1, 64), 256 B</text><text x="267.5" y="2504.45">in_features=128, out_features=64</text><text class="s" x="232.8" y="2510.75">params: weight (64, 128) · bias (64,)</text><text x="267" y="2517.05">@model.enc2.emb_proj</text></g>
<g id="groupnorm_3_29"><rect class="r" x="140.3" y="2531.7" width="64" height="32.6"/><text class="b" x="173.3" y="2537.2">groupnorm_3_29</text><text x="173.8" y="2543.5">(1, 64, 32, 32), 256.0 KB</text><text x="174.3" y="2549.8">num_groups=8, eps=1e-05</text><text class="s" x="143.8" y="2556.1">params: weight (64,) · bias (64,)</text><text x="173.8" y="2562.4">@model.enc2.norm1</text></g>
<g id="identity_2_38"><rect class="w" x="210.7" y="2537.3" width="51.6" height="21.7"/><text class="b" x="237.5" y="2543.65">identity_2_38</text><text class="s" x="214.2" y="2549.95">(1, 64, 32, 32), 256.0 KB</text><text x="238" y="2556.25">@model.enc2.skip</text></g>
<g id="conv2d_4_28"><rect class="r" x="137.3" y="2576" width="155" height="33.3"/><text class="b" x="215.8" y="2581.85">conv2d_4_28</text><text x="216.3" y="2588.15">(1, 64, 32, 32), 256.0 KB</text><text class="s" x="140.8" y="2594.45">in_channels=32, out_channels=64, kernel_size=(3, 3), stride=(2, 2), padding=(1, 1)</text><text x="219.3" y="2600.75">params: weight (64, 32, 3, 3) · bias (64,)</text><text x="216.3" y="2607.05">@model.down1</text></g>
<g id="add_2_27"><ellipse class="w" cx="215" cy="2640.7" rx="36.7" ry="10.3"/><text class="b" x="216" y="2639.35">add_2_27</text><text x="216" y="2645.65">(1, 32, 64, 64), 512.0 KB</text></g>
<g id="conv2d_3_25"><rect class="r" x="149.3" y="2663.3" width="131.4" height="33.4"/><text class="b" x="216" y="2669.2">conv2d_3_25</text><text x="216.5" y="2675.5">(1, 32, 64, 64), 512.0 KB</text><text class="s" x="152.8" y="2681.8">in_channels=32, out_channels=32, kernel_size=(3, 3), padding=(1, 1)</text><text x="219.5" y="2688.1">params: weight (32, 32, 3, 3) · bias (32,)</text><text x="216.5" y="2694.4">@model.enc1.conv2</text></g>
<g id="silu_3_24"><ellipse class="w" cx="215" cy="2718.3" rx="36.7" ry="10.3"/><text class="b" x="216" y="2716.95">silu_3_24</text><text x="216" y="2723.25">(1, 32, 64, 64), 512.0 KB</text></g>
<g id="groupnorm_2_23"><rect class="r" x="182.7" y="2741" width="64.3" height="33.3"/><text class="b" x="215.85" y="2746.85">groupnorm_2_23</text><text x="216.35" y="2753.15">(1, 32, 64, 64), 512.0 KB</text><text x="216.85" y="2759.45">num_groups=8, eps=1e-05</text><text class="s" x="186.2" y="2765.75">params: weight (32,) · bias (32,)</text><text x="216.35" y="2772.05">@model.enc1.norm2</text></g>
<g id="add_1_22"><ellipse class="w" cx="215" cy="2796" rx="36.7" ry="10.3"/><text class="b" x="216" y="2794.65">add_1_22</text><text x="216" y="2800.95">(1, 32, 64, 64), 512.0 KB</text></g>
<g id="conv2d_2_19"><rect class="r" x="88.3" y="2818.3" width="131" height="34"/><text class="b" x="154.8" y="2824.5">conv2d_2_19</text><text x="155.3" y="2830.8">(1, 32, 64, 64), 512.0 KB</text><text class="s" x="91.8" y="2837.1">in_channels=32, out_channels=32, kernel_size=(3, 3), padding=(1, 1)</text><text x="158.3" y="2843.4">params: weight (32, 32, 3, 3) · bias (32,)</text><text x="155.3" y="2849.7">@model.enc1.conv1</text></g>
<g id="getitem_3_21"><ellipse class="w dh" cx="254" cy="2835" rx="28.7" ry="10.3"/><text class="b" x="255" y="2833.65">getitem_3_21</text><text x="255" y="2839.95">(1, 32, 1, 1), 128 B</text></g>
<g id="silu_2_18"><ellipse class="w" cx="146" cy="2880" rx="36.7" ry="10.3"/><text class="b" x="147" y="2878.65">silu_2_18</text><text x="147" y="2884.95">(1, 32, 64, 64), 512.0 KB</text></g>
<g id="linear_3_20"><rect class="r dh" x="210.3" y="2864" width="72.4" height="33.7"/><text class="b" x="247.5" y="2870.05">linear_3_20</text><text x="248" y="2876.35">(1, 32), 128 B</text><text x="248.5" y="2882.65">in_features=128, out_features=32</text><text class="s" x="213.8" y="2888.95">params: weight (32, 128) · bias (32,)</text><text x="248" y="2895.25">@model.enc1.emb_proj</text></g>
<g id="linear_2_15"><rect class="r dh" x="260" y="2942.7" width="76.7" height="33.3"/><text class="b" x="299.35" y="2948.55">linear_2_15</text><text x="299.85" y="2954.85">(1, 128), 512 B</text><text x="300.35" y="2961.15">in_features=128, out_features=128</text><text class="s" x="263.5" y="2967.45">params: weight (128, 128) · bias (128,)</text><text x="299.85" y="2973.75">@model.time_embed.mlp.2</text></g>
<g id="silu_1_14"><rect class="w dh" x="270" y="2993.3" width="57.7" height="21.7"/><text class="b" x="299.85" y="2999.65">silu_1_14</text><text x="300.35" y="3005.95">(1, 128), 512 B</text><text class="s" x="273.5" y="3012.25">@model.time_embed.mlp.1</text></g>
<g id="linear_1_13"><rect class="r dh" x="260" y="3032.3" width="76.7" height="33.7"/><text class="b" x="299.35" y="3038.35">linear_1_13</text><text x="299.85" y="3044.65">(1, 128), 512 B</text><text x="300.35" y="3050.95">in_features=128, out_features=128</text><text class="s" x="263.5" y="3057.25">params: weight (128, 128) · bias (128,)</text><text x="299.85" y="3063.55">@model.time_embed.mlp.0</text></g>
<g id="groupnorm_1_17"><rect class="r" x="106.7" y="2942.3" width="64" height="33.7"/><text class="b" x="139.7" y="2948.35">groupnorm_1_17</text><text x="140.2" y="2954.65">(1, 32, 64, 64), 512.0 KB</text><text x="140.7" y="2960.95">num_groups=8, eps=1e-05</text><text class="s" x="110.2" y="2967.25">params: weight (32,) · bias (32,)</text><text x="140.2" y="2973.55">@model.enc1.norm1</text></g>
<g id="identity_1_20"><rect class="w" x="176" y="2948.3" width="52.3" height="21.7"/><text class="b" x="203.15" y="2954.65">identity_1_20</text><text class="s" x="179.5" y="2960.95">(1, 32, 64, 64), 512.0 KB</text><text x="203.65" y="2967.25">@model.enc1.skip</text></g>
<g id="conv2d_1_16"><rect class="r" x="94.3" y="2987.3" width="128.4" height="33.7"/><text class="b" x="159.5" y="2993.35">conv2d_1_16</text><text x="160" y="2999.65">(1, 32, 64, 64), 512.0 KB</text><text class="s" x="97.8" y="3005.95">in_channels=3, out_channels=32, kernel_size=(3, 3), padding=(1, 1)</text><text x="163" y="3012.25">params: weight (32, 3, 3, 3) · bias (32,)</text><text x="160" y="3018.55">@model.in_conv</text></g>
<g id="input_1"><ellipse cx="35" cy="3049.3" rx="34" ry="15" fill="#90ee90" stroke="#8f8f8f" stroke-width="0.6"/><text class="b" x="35.5" y="3044.8">input_1</text><text x="36" y="3051.1">(1, 3, 64, 64), 48.0 KB</text><text x="35.5" y="3057.4">@input.x</text></g>
<g id="cat_1_12"><ellipse class="w dh" cx="293.3" cy="3092.5" rx="19.2" ry="14"/><text class="b" x="293.8" y="3088">cat_1_12</text><text x="293.8" y="3094.3">(1, 128), 512 B</text><text x="293.8" y="3100.6">dim=-1</text></g>
<g id="cos_1_10"><ellipse class="w dh" cx="265.7" cy="3130" rx="20" ry="10.3"/><text class="b" x="266.2" y="3128.65">cos_1_10</text><text x="266.2" y="3134.95">(1, 64), 256 B</text></g>
<g id="sin_1_11"><ellipse class="w dh" cx="321" cy="3130" rx="20" ry="10.3"/><text class="b" x="321.5" y="3128.65">sin_1_11</text><text x="321.5" y="3134.95">(1, 64), 256 B</text></g>
<g id="mul_2_9"><ellipse class="w dh" cx="293.3" cy="3162.7" rx="22.3" ry="10.3"/><text class="b" x="293.8" y="3161.35">mul_2_9</text><text x="293.8" y="3167.65">(1, 64), 256 B</text></g>
<g id="getitem_2_8"><ellipse class="w dh" cx="276" cy="3195" rx="20.5" ry="10.3"/><text class="b" x="276.5" y="3193.65">getitem_2_8</text><text x="276.5" y="3199.95">(1, 64), 256 B</text></g>
<g id="float_1_7"><ellipse class="w dh" cx="322.3" cy="3195" rx="18.3" ry="10.3"/><text class="b" x="322.8" y="3193.65">float_1_7</text><text x="322.8" y="3199.95">(1, 1), 4 B</text></g>
<g id="exp_1_5"><ellipse class="w dh" cx="276" cy="3227.3" rx="19.8" ry="10.3"/><text class="b" x="276.5" y="3225.95">exp_1_5</text><text x="276.5" y="3232.25">(64,), 256 B</text></g>
<g id="getitem_1_6"><ellipse class="w dh" cx="322.3" cy="3227.3" rx="20.5" ry="10.3"/><text class="b" x="322.8" y="3225.95">getitem_1_6</text><text x="322.8" y="3232.25">(1, 1), 4 B</text></g>
<g id="mul_1_4"><ellipse class="w dh" cx="276" cy="3260" rx="19.8" ry="10.3"/><text class="b" x="276.5" y="3258.65">mul_1_4</text><text x="276.5" y="3264.95">(64,), 256 B</text></g>
<g id="neg_1_3"><ellipse class="w dh" cx="276" cy="3293.3" rx="19.8" ry="10.3"/><text class="b" x="276.5" y="3291.95">neg_1_3</text><text x="276.5" y="3298.25">(64,), 256 B</text></g>
<g id="arange_1_2"><ellipse class="w dh" cx="276" cy="3326" rx="19.8" ry="10.3"/><text class="b" x="276.5" y="3324.65">arange_1_2</text><text x="276.5" y="3330.95">(64,), 256 B</text></g>
<g id="zeros_1_1"><ellipse class="w dh" cx="380.7" cy="3261.7" rx="18.3" ry="10.3"/><text class="b" x="381.2" y="3260.35">zeros_1_1</text><text x="381.2" y="3266.65">(1,), 4 B</text></g>
</svg>
